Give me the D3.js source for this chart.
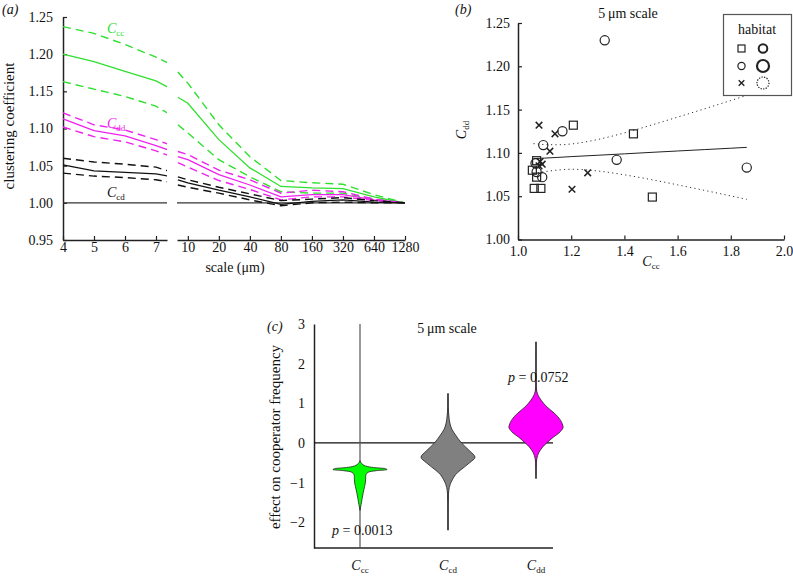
<!DOCTYPE html>
<html><head><meta charset="utf-8">
<script src="https://cdn.jsdelivr.net/npm/d3@7"></script>
<style>
body{margin:0;background:#fff;}
</style></head><body>
<svg id="c" width="793" height="576"></svg>
<script>
// ---------------- Panel (a) data ----------------
const scalesA = [4,5,6,7,8,10,20,40,80,160,320,640,1280];
const leftTicks = [4,5,6,7];
const rightTicks = [10,20,40,80,160,320,640,1280];
const yTicksA = [0.95,1.00,1.05,1.10,1.15,1.20,1.25];
const ccMean  = [1.200,1.190,1.177,1.164,1.142,1.134,1.085,1.047,1.022,1.020,1.019,1.008,1.000];
const ccUpper = [1.237,1.228,1.213,1.196,1.176,1.161,1.105,1.062,1.030,1.027,1.025,1.011,1.000];
const ccLower = [1.163,1.153,1.143,1.130,1.105,1.094,1.058,1.035,1.015,1.013,1.013,1.005,1.000];
const ddMean  = [1.113,1.097,1.090,1.077,1.062,1.058,1.038,1.024,1.008,1.011,1.011,1.004,1.000];
const ddUpper = [1.121,1.105,1.098,1.085,1.069,1.065,1.044,1.031,1.013,1.017,1.015,1.005,1.000];
const ddLower = [1.102,1.089,1.082,1.070,1.054,1.048,1.030,1.018,1.004,1.008,1.008,1.003,1.000];
const cdMean  = [1.051,1.043,1.041,1.039,1.031,1.027,1.017,1.008,0.998,1.002,1.004,1.001,1.000];
const cdUpper = [1.060,1.055,1.052,1.048,1.035,1.031,1.021,1.012,1.003,1.005,1.007,1.003,1.000];
const cdLower = [1.040,1.036,1.034,1.031,1.024,1.021,1.013,1.004,0.996,1.000,1.001,1.000,1.000];

// ---------------- Panel (b) data ----------------
const xTicksB = [1.0,1.2,1.4,1.6,1.8,2.0];
const yTicksB = [1.00,1.05,1.10,1.15,1.20,1.25];
const sqX = [1.208,1.434,1.505,1.061,1.086,1.054,1.070,1.070];
const sqY = [1.132,1.122,1.049,1.059,1.059,1.080,1.091,1.072];
const ciX = [1.326,1.167,1.095,1.371,1.860,1.066,1.070,1.091];
const ciY = [1.230,1.125,1.109,1.092,1.083,1.088,1.078,1.072];
const crX = [1.139,1.079,1.120,1.262,1.203,1.083,1.091,1.079];
const crY = [1.122,1.132,1.102,1.077,1.058,1.090,1.087,1.085];
const fitX   = [1.058,1.10,1.15,1.20,1.30,1.40,1.50,1.60,1.70,1.80,1.86];
const fitY   = [1.0934,1.0940,1.0948,1.0957,1.0973,1.0989,1.1006,1.1022,1.1038,1.1054,1.1064];
const bandUp = [1.1107,1.1097,1.1094,1.1103,1.1155,1.1231,1.1320,1.1413,1.1508,1.1605,1.1664];
const bandLo = [1.0761,1.0783,1.0802,1.0811,1.0791,1.0747,1.0692,1.0631,1.0568,1.0503,1.0464];

// ---------------- Panel (c) data ----------------
const violinCats = ["cc","cd","dd"];
const violinColors = ["#00ff00","#808080","#ff00ff"];
const whiskerLo = [-2.65,-2.2,-0.9];
const whiskerHi = [3.0,1.25,2.55];
const yTicksC = [-2,-1,0,1,2,3];
const cccVal = [-0.45,-0.52,-0.58,-0.62,-0.65,-0.67,-0.70,-0.74,-0.80,-0.90,-1.00,-1.10,-1.25,-1.40,-1.55,-1.70];
const cccDen = [0,0.06,0.2,0.5,0.95,1.0,0.6,0.3,0.22,0.21,0.2,0.17,0.12,0.08,0.04,0];
const ccdVal = [1.25,0.9,0.7,0.5,0.35,0.2,0.0,-0.2,-0.36,-0.5,-0.68,-0.8,-0.93,-1.05,-1.2,-1.5,-2.2];
const ccdDen = [0,0.01,0.03,0.07,0.14,0.28,0.5,0.8,1.0,0.8,0.47,0.28,0.16,0.08,0.03,0.01,0];
const cddVal = [2.55,1.6,1.3,1.15,1.0,0.9,0.75,0.6,0.45,0.38,0.25,0.15,0.0,-0.1,-0.25,-0.4,-0.6,-0.9];
const cddDen = [0,0.005,0.03,0.12,0.28,0.42,0.68,0.88,0.99,1.0,0.85,0.65,0.4,0.25,0.1,0.03,0.01,0];
const violinVals = [cccVal, ccdVal, cddVal];
const violinDens = [cccDen, ccdDen, cddDen];
const pLabels = ["0.0013", null, "0.0752"];

// ---------------- font choice ----------------
function hasFont(name) {
  const ctx = document.createElement("canvas").getContext("2d");
  const s = "abcdefghijklmnopqrstuvwxyz0123456789ABCDEFG";
  let diff = false;
  ["monospace", "sans-serif"].forEach(base => {
    ctx.font = "20px " + base;
    const w1 = ctx.measureText(s).width;
    ctx.font = "20px '" + name + "', " + base;
    const w2 = ctx.measureText(s).width;
    if (Math.abs(w1 - w2) > 0.1) diff = true;
  });
  return diff;
}
const fontCands = ["Liberation Serif", "Times New Roman", "Tinos", "Nimbus Roman", "DejaVu Serif", "Noto Serif"];
const pick = fontCands.find(hasFont) || "serif";
const FONT = "'" + pick + "', serif";

// ---------------- drawing ----------------
const svg = d3.select("#c").attr("font-family", FONT);
const AX = "#222";
const GREEN = "#2ee02e", MAG = "#ee22ee";

function cLabel(g, x, y, sub, color, anchor, transform) {
  const t = g.append("text").attr("x", x).attr("y", y).attr("fill", color)
    .attr("font-size", 14).attr("font-family", FONT).attr("text-anchor", anchor || "start");
  if (transform) t.attr("transform", transform);
  t.append("tspan").attr("font-style", "italic").text("C");
  t.append("tspan").attr("font-size", 9).attr("dy", 3).text(sub);
  return t;
}
function txt(g, x, y, s, opts) {
  const t = g.append("text").attr("x", x).attr("y", y).attr("font-size", 14)
    .attr("font-family", FONT).attr("fill", "#111").text(s);
  if (opts) Object.entries(opts).forEach(([k, v]) => t.attr(k, v));
  return t;
}
function styleAxis(g) {
  g.attr("font-family", FONT).attr("font-size", 14);
  g.select(".domain").attr("stroke", AX).attr("stroke-width", 1.5);
  g.selectAll(".tick line").attr("stroke", AX).attr("stroke-width", 1.2);
  g.selectAll(".tick text").attr("font-size", 14).attr("fill", "#111").attr("font-family", FONT);
}

// ===== Panel (a) =====
const gA = svg.append("g");
const xL = d3.scaleLinear().domain([4, 7.355]).range([63, 167]);
const xR = d3.scaleLog().domain([7.85, 1280]).range([177, 405]);
const yA = d3.scaleLinear().domain([0.95, 1.25]).range([240, 17]);

svg.append("defs").append("clipPath").attr("id", "clipL")
  .append("rect").attr("x", 55).attr("y", 0).attr("width", 112).attr("height", 260);

gA.append("g").attr("transform", "translate(0,240)")
  .call(d3.axisBottom(xL).tickValues(leftTicks).tickFormat(d3.format("d"))
    .tickSizeInner(-4).tickSizeOuter(0).tickPadding(2)).call(styleAxis);
gA.append("g").attr("transform", "translate(0,240)")
  .call(d3.axisBottom(xR).tickValues(rightTicks).tickFormat(d3.format("d"))
    .tickSizeInner(-4).tickSizeOuter(0).tickPadding(2)).call(styleAxis);
gA.append("g").attr("transform", "translate(63,0)")
  .call(d3.axisLeft(yA).tickValues(yTicksA).tickFormat(d3.format(".2f"))
    .tickSizeInner(-4).tickSizeOuter(0).tickPadding(10)).call(styleAxis);

gA.append("line").attr("x1", xL(4)).attr("x2", 167).attr("y1", yA(1)).attr("y2", yA(1))
  .attr("stroke", "#333").attr("stroke-width", 1.3);
gA.append("line").attr("x1", 177).attr("x2", xR(1280)).attr("y1", yA(1)).attr("y2", yA(1))
  .attr("stroke", "#333").attr("stroke-width", 1.3);

const seriesA = [
  {v: ccUpper, c: GREEN, d: true}, {v: ccLower, c: GREEN, d: true}, {v: ccMean, c: GREEN, d: false},
  {v: ddUpper, c: MAG, d: true}, {v: ddLower, c: MAG, d: true}, {v: ddMean, c: MAG, d: false},
  {v: cdUpper, c: "#111", d: true}, {v: cdLower, c: "#111", d: true}, {v: cdMean, c: "#111", d: false}
];
const idxL = scalesA.map((s, i) => i).filter(i => scalesA[i] <= 8);
const idxR = scalesA.map((s, i) => i).filter(i => scalesA[i] >= 8);
seriesA.forEach(s => {
  const lineL = d3.line().x(i => xL(scalesA[i])).y(i => yA(s.v[i]));
  const lineR = d3.line().x(i => xR(scalesA[i])).y(i => yA(s.v[i]));
  [[lineL, idxL, true], [lineR, idxR, false]].forEach(([ln, idx, clip]) => {
    const p = gA.append("path").attr("d", ln(idx)).attr("fill", "none")
      .attr("stroke", s.c).attr("stroke-width", s.d ? 1.4 : 1.3);
    if (s.d) p.attr("stroke-dasharray", "8,5");
    if (clip) p.attr("clip-path", "url(#clipL)");
  });
});

cLabel(gA, 107, 33, "cc", GREEN);
cLabel(gA, 107, 128, "dd", MAG);
cLabel(gA, 107, 197, "cd", "#111");

txt(gA, 2, 14, "(a)", {"font-style": "italic"});
txt(gA, 0, 0, "clustering coefficient", {"transform": "translate(14,126) rotate(-90)", "text-anchor": "middle", "font-size": 15});
txt(gA, 235, 272, "scale (\u03bcm)", {"text-anchor": "middle"});

// ===== Panel (b) =====
const gB = svg.append("g");
const xB = d3.scaleLinear().domain([1, 2]).range([518, 784]);
const yB = d3.scaleLinear().domain([1, 1.25]).range([239.5, 23]);

gB.append("g").attr("transform", "translate(0,239.5)")
  .call(d3.axisBottom(xB).tickValues(xTicksB).tickFormat(d3.format(".1f"))
    .tickSizeInner(-4).tickSizeOuter(0).tickPadding(7)).call(styleAxis);
gB.append("g").attr("transform", "translate(518,0)")
  .call(d3.axisLeft(yB).tickValues(yTicksB).tickFormat(d3.format(".2f"))
    .tickSizeInner(-4).tickSizeOuter(0).tickPadding(8)).call(styleAxis);

const idxF = fitX.map((d, i) => i);
gB.append("path").attr("d", d3.line().x(i => xB(fitX[i])).y(i => yB(fitY[i]))(idxF))
  .attr("fill", "none").attr("stroke", "#222").attr("stroke-width", 1);
[bandUp, bandLo].forEach(b => {
  gB.append("path").attr("d", d3.line().curve(d3.curveMonotoneX).x(i => xB(fitX[i])).y(i => yB(b[i]))(idxF))
    .attr("fill", "none").attr("stroke", "#333").attr("stroke-width", 1).attr("stroke-dasharray", "1.2,3.2");
});

const ptStroke = "#222";
sqX.forEach((x, i) => {
  gB.append("rect").attr("x", xB(x) - 4).attr("y", yB(sqY[i]) - 4).attr("width", 8).attr("height", 8)
    .attr("fill", "none").attr("stroke", ptStroke).attr("stroke-width", 1.2);
});
ciX.forEach((x, i) => {
  gB.append("circle").attr("cx", xB(x)).attr("cy", yB(ciY[i])).attr("r", 4.6)
    .attr("fill", "none").attr("stroke", ptStroke).attr("stroke-width", 1.2);
});
const cross = (g, cx, cy, h, w) => {
  g.append("path").attr("d", `M${cx-h},${cy-h}L${cx+h},${cy+h}M${cx-h},${cy+h}L${cx+h},${cy-h}`)
    .attr("stroke", ptStroke).attr("stroke-width", w).attr("fill", "none");
};
crX.forEach((x, i) => cross(gB, xB(x), yB(crY[i]), 3.3, 1.5));

txt(gB, 455, 14, "(b)", {"font-style": "italic"});
txt(gB, 628, 18, "5\u2009\u03bcm scale", {"text-anchor": "middle"});
cLabel(gB, 651, 266, "cc", "#111", "middle");
cLabel(gB, 0, 0, "dd", "#111", "middle", "translate(466,130) rotate(-90)");

// legend
const lg = gB.append("g");
lg.append("rect").attr("x", 723.5).attr("y", 14.5).attr("width", 68).attr("height", 81)
  .attr("fill", "#fff").attr("stroke", "#555").attr("stroke-width", 1.2);
txt(lg, 757, 34, "habitat", {"text-anchor": "middle"});
lg.append("rect").attr("x", 738).attr("y", 45).attr("width", 7).attr("height", 7)
  .attr("fill", "none").attr("stroke", "#222").attr("stroke-width", 1.2);
lg.append("circle").attr("cx", 763).attr("cy", 48.5).attr("r", 4.3)
  .attr("fill", "none").attr("stroke", "#222").attr("stroke-width", 2);
lg.append("circle").attr("cx", 741.5).attr("cy", 66).attr("r", 3.6)
  .attr("fill", "none").attr("stroke", "#222").attr("stroke-width", 1.2);
lg.append("circle").attr("cx", 763).attr("cy", 66).attr("r", 6)
  .attr("fill", "none").attr("stroke", "#222").attr("stroke-width", 2.2);
cross(lg, 741.5, 83, 2.8, 1.4);
lg.append("circle").attr("cx", 763).attr("cy", 83).attr("r", 6)
  .attr("fill", "none").attr("stroke", "#222").attr("stroke-width", 1.2).attr("stroke-dasharray", "1.3,1.3");

// ===== Panel (c) =====
const gC = svg.append("g");
const yC = d3.scaleLinear().domain([-2.65, 3]).range([548, 324]);
const xC = d3.scalePoint().domain(violinCats).range([360, 536]);
const wC = d3.scaleLinear().domain([0, 1]).range([0, 27]);

gC.append("g").attr("transform", "translate(314,0)")
  .call(d3.axisLeft(yC).tickValues(yTicksC).tickFormat(d3.format("d")).tickSize(0).tickPadding(9)).call(styleAxis);
gC.append("line").attr("x1", 314).attr("x2", 553).attr("y1", yC(-2.65)).attr("y2", yC(-2.65))
  .attr("stroke", AX).attr("stroke-width", 1.5);
gC.append("line").attr("x1", 314).attr("x2", 553).attr("y1", yC(0)).attr("y2", yC(0))
  .attr("stroke", "#111").attr("stroke-width", 1.2);

violinCats.forEach((cat, k) => {
  const cx = xC(cat);
  gC.append("line").attr("x1", cx).attr("x2", cx).attr("y1", yC(whiskerLo[k])).attr("y2", yC(whiskerHi[k]))
    .attr("stroke", "#555").attr("stroke-width", 1.2);
  const vals = violinVals[k], dens = violinDens[k];
  const idx = vals.map((d, i) => i);
  const area = d3.area().curve(d3.curveCatmullRom.alpha(0.5))
    .y(i => yC(vals[i])).x0(i => cx - wC(dens[i])).x1(i => cx + wC(dens[i]));
  gC.append("path").attr("d", area(idx)).attr("fill", violinColors[k])
    .attr("stroke", "#222").attr("stroke-width", 0.8);
  cLabel(gC, cx, 570, cat, "#111", "middle");
});

function pText(x, y, val) {
  const t = gC.append("text").attr("x", x).attr("y", y).attr("font-size", 14).attr("font-family", FONT).attr("fill", "#111");
  t.append("tspan").attr("font-style", "italic").text("p");
  t.append("tspan").text(" = " + val);
}
pText(332, 535, pLabels[0]);
pText(508, 382, pLabels[2]);

txt(gC, 267, 331, "(c)", {"font-style": "italic"});
txt(gC, 447, 333, "5\u2009\u03bcm scale", {"text-anchor": "middle"});
txt(gC, 0, 0, "effect on cooperator frequency", {"transform": "translate(280,437) rotate(-90)", "text-anchor": "middle", "font-size": 15});
</script>
</body></html>
